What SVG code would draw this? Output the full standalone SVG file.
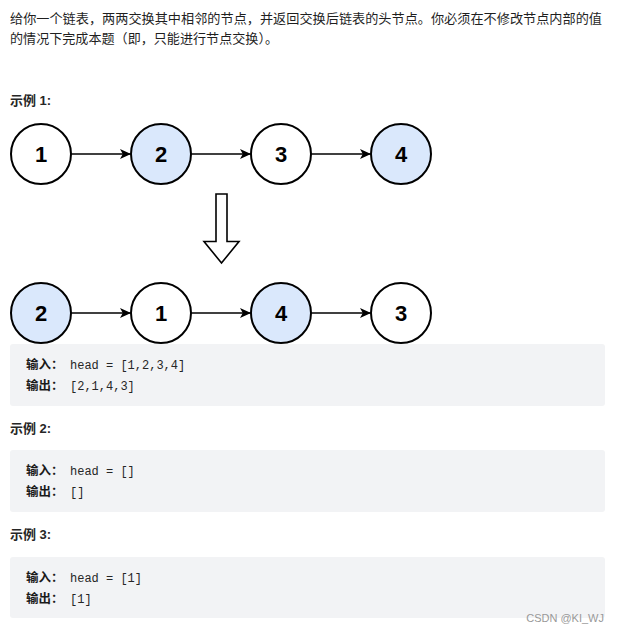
<svg xmlns="http://www.w3.org/2000/svg" width="619" height="633" viewBox="0 0 619 633">
<defs>
<style>
.p{font-family:"Noto Sans CJK SC","Liberation Sans",sans-serif;font-size:13px;fill:#1f1f1f}
.h{font-family:"Liberation Sans","Noto Sans CJK SC",sans-serif;font-size:13px;font-weight:bold;fill:#262626}
.box{fill:#f2f3f5}
.lb{font-family:"Liberation Sans","Noto Sans CJK SC",sans-serif;font-size:12.5px;font-weight:bold;fill:#1a1a1a}
.code{font-family:"Liberation Mono","DejaVu Sans Mono",monospace;font-size:12px;fill:#262626}
.n{stroke:#000;stroke-width:2}
.w{fill:#fff}
.b{fill:#dae8fc}
.nt{font-family:"Liberation Sans",Arial,sans-serif;font-size:22px;font-weight:bold;fill:#000;text-anchor:middle}
.e{stroke:#000;stroke-width:1.6;fill:none}
.wm{font-family:"Liberation Sans",Arial,sans-serif;font-size:11px;fill:#999}
</style>
<marker id="ah" markerWidth="12" markerHeight="11" refX="11" refY="5.5" orient="auto" markerUnits="userSpaceOnUse">
<path d="M0,0.5 L11,5.5 L0,10.5 L2.8,5.5 Z" fill="#000"/>
</marker>
</defs>
<rect width="619" height="633" fill="#fff"/>
<text class="p" x="10" y="23" textLength="592" lengthAdjust="spacingAndGlyphs">给你一个链表，两两交换其中相邻的节点，并返回交换后链表的头节点。你必须在不修改节点内部的值</text>
<text class="p" x="10" y="43" textLength="268" lengthAdjust="spacingAndGlyphs">的情况下完成本题（即，只能进行节点交换）。</text>
<text class="h" x="10" y="105">示例 1:</text>
<g id="edges">
<line class="e" x1="71" y1="154" x2="131" y2="154" marker-end="url(#ah)"/>
<line class="e" x1="191" y1="154" x2="251" y2="154" marker-end="url(#ah)"/>
<line class="e" x1="311" y1="154" x2="371" y2="154" marker-end="url(#ah)"/>
<line class="e" x1="71" y1="313" x2="131" y2="313" marker-end="url(#ah)"/>
<line class="e" x1="191" y1="313" x2="251" y2="313" marker-end="url(#ah)"/>
<line class="e" x1="311" y1="313" x2="371" y2="313" marker-end="url(#ah)"/>
</g>
<g id="a1"><circle class="n w" cx="41" cy="154" r="30"/><text class="nt" x="41" y="162">1</text></g>
<g id="a2"><circle class="n b" cx="161" cy="154" r="30"/><text class="nt" x="161" y="162">2</text></g>
<g id="a3"><circle class="n w" cx="281" cy="154" r="30"/><text class="nt" x="281" y="162">3</text></g>
<g id="a4"><circle class="n b" cx="401" cy="154" r="30"/><text class="nt" x="401" y="162">4</text></g>
<g id="down"><path d="M216,194 H227 V241.5 H239 L221.5,263 L204,241.5 H216 Z" fill="#fff" stroke="#000" stroke-width="1.6" stroke-linejoin="miter"/></g>
<g id="b2"><circle class="n b" cx="41" cy="313" r="30"/><text class="nt" x="41" y="321">2</text></g>
<g id="b1"><circle class="n w" cx="161" cy="313" r="30"/><text class="nt" x="161" y="321">1</text></g>
<g id="b4"><circle class="n b" cx="281" cy="313" r="30"/><text class="nt" x="281" y="321">4</text></g>
<g id="b3"><circle class="n w" cx="401" cy="313" r="30"/><text class="nt" x="401" y="321">3</text></g>
<g id="ex1">
<rect class="box" x="10" y="344" width="595" height="62" rx="3"/>
<text class="lb" x="26" y="369">输入：</text><text class="code" x="70" y="369">head = [1,2,3,4]</text>
<text class="lb" x="26" y="390">输出：</text><text class="code" x="70" y="390">[2,1,4,3]</text>
</g>
<text class="h" x="10" y="433">示例 2:</text>
<g id="ex2">
<rect class="box" x="10" y="450" width="595" height="62" rx="3"/>
<text class="lb" x="26" y="475">输入：</text><text class="code" x="70" y="475">head = []</text>
<text class="lb" x="26" y="496">输出：</text><text class="code" x="70" y="496">[]</text>
</g>
<text class="h" x="10" y="539">示例 3:</text>
<g id="ex3">
<rect class="box" x="10" y="557" width="595" height="61" rx="3"/>
<text class="lb" x="26" y="582">输入：</text><text class="code" x="70" y="582">head = [1]</text>
<text class="lb" x="26" y="603">输出：</text><text class="code" x="70" y="603">[1]</text>
</g>
<text class="wm" x="604" y="622" text-anchor="end">CSDN @KI_WJ</text>
</svg>
